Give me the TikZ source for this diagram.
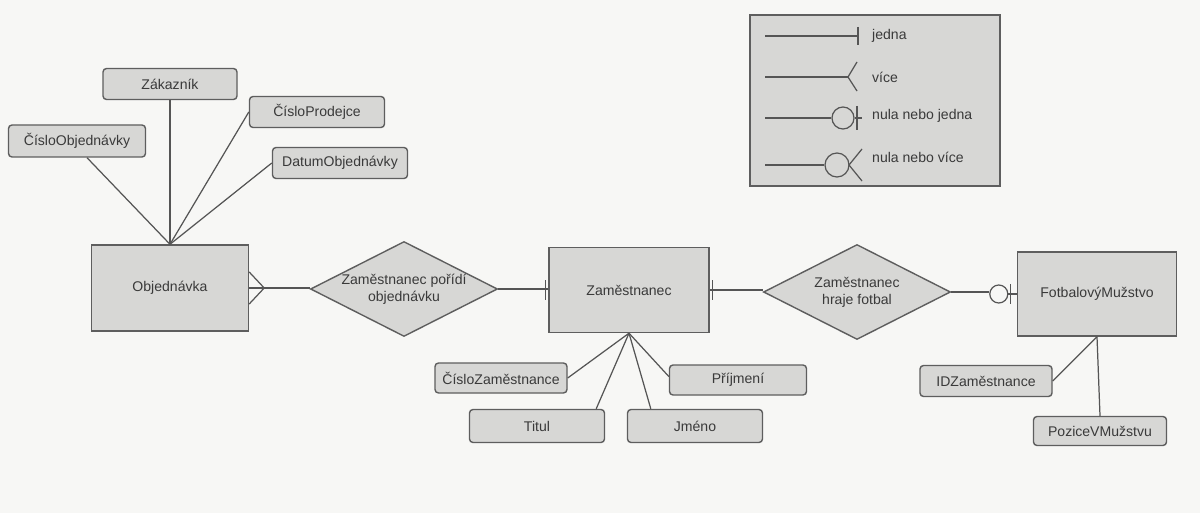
\documentclass[tikz,border=0pt]{standalone}
\usepackage{fontspec}
\setmainfont{Liberation Sans}
\usetikzlibrary{shapes.geometric,calc}
\newdimen\pxu \pxu=0.02cm
\definecolor{bg}{HTML}{F7F7F5}
\definecolor{boxfill}{HTML}{D7D7D5}
\definecolor{edge}{HTML}{5E5E5E}
\definecolor{ink}{HTML}{3A3A3A}
\definecolor{wirec}{HTML}{555555}
\begin{document}
\begin{tikzpicture}[x=0.02cm,y=-0.02cm,
  lbl/.style={font=\fontsize{8}{9.5}\selectfont, text=ink},
  entity/.style={lbl, draw=edge, fill=boxfill, line width=0.8pt, minimum width=157\pxu, minimum height=86\pxu},
  attr/.style={lbl, draw=edge, fill=boxfill, rounded corners=2pt, line width=0.8pt, minimum width=134\pxu, minimum height=31\pxu, inner sep=1pt},
  rel/.style={lbl, diamond, draw=edge, fill=boxfill, line width=0.8pt, aspect=1.97, inner sep=0pt, minimum width=187\pxu, minimum height=95\pxu, align=center},
  wire/.style={draw=wirec, line width=0.7pt},
  ring/.style={circle, draw=wirec, line width=0.7pt, inner sep=0pt}
]
\fill[bg] (0,0) rectangle (1200,513);
\useasboundingbox (0,0) rectangle (1200,513);

% entities
\node[entity] (obj) at (170,288) {Objednávka};
\node[entity, minimum width=160\pxu, minimum height=85\pxu] (zam) at (629,290) {Zaměstnanec};
\node[entity, minimum width=159\pxu, minimum height=84\pxu] (fm) at (1097,294) {FotbalovýMužstvo};

% relationships
\node[rel] (r1) at (404,289) {Zaměstnanec pořídí\\objednávku};
\node[rel] (r2) at (857,292) {Zaměstnanec\\hraje fotbal};

% attributes
\node[attr] (zak) at (170,84) {Zákazník};
\node[attr, minimum width=137\pxu, minimum height=32\pxu] (co) at (77,141) {ČísloObjednávky};
\node[attr, minimum width=135\pxu] (cp) at (317,112) {ČísloProdejce};
\node[attr, minimum width=135\pxu] (dobj) at (340,163) {DatumObjednávky};
\node[attr, minimum width=132\pxu, minimum height=30\pxu] (czam) at (501,378) {ČísloZaměstnance};
\node[attr, minimum width=137\pxu, minimum height=30\pxu] (prij) at (738,380) {Příjmení};
\node[attr, minimum width=135\pxu, minimum height=33\pxu] (titul) at (537,426) {Titul};
\node[attr, minimum width=135\pxu, minimum height=33\pxu] (jmeno) at (695,426) {Jméno};
\node[attr, minimum width=132\pxu] (idz) at (986,381) {IDZaměstnance};
\node[attr, minimum width=133\pxu, minimum height=29\pxu] (poz) at (1100,431) {PoziceVMužstvu};

% attribute links
\draw[wire] ([xshift=10\pxu]co.south) -- (obj.north);
\draw[wire] (zak.south) -- (obj.north);
\draw[wire] (cp.west) -- (obj.north);
\draw[wire] (dobj.west) -- (obj.north);
\draw[wire] (czam.east) -- (zam.south);
\draw[wire] ([xshift=-9\pxu]titul.north east) -- (zam.south);
\draw[wire] ([xshift=24\pxu]jmeno.north west) -- (zam.south);
\draw[wire] ([yshift=2pt]prij.west) -- (zam.south);
\draw[wire] (idz.east) -- (fm.south);
\draw[wire] (poz.north) -- (fm.south);

% relationship links
\draw[wire] (obj.east) -- (obj.east -| r1.west);
\coordinate (cf1) at ($(obj.east)+(15,0)$);
\draw[wire] ($(obj.east)+(0,-16)$) -- (cf1) -- ($(obj.east)+(0,16)$);
\draw[wire] (r1.east) -- (r1.east -| zam.west);
\draw[wire] ($(zam.west)+(-3,-10)$) -- ($(zam.west)+(-3,10)$);
\draw[wire] (zam.east) -- (zam.east -| r2.west);
\draw[wire] ($(zam.east)+(3,-10)$) -- ($(zam.east)+(3,10)$);
\node[ring, fill=bg, minimum size=18\pxu] (c1) at ($(fm.west)+(-18,0)$) {};
\draw[wire] (r2.east) -- (r2.east -| c1.west);
\draw[wire] (c1.east) -- (fm.west);
\draw[wire] ($(fm.west)+(-6,-10)$) -- ($(fm.west)+(-6,10)$);

% legend
\node[draw=edge, fill=boxfill, line width=0.8pt, minimum width=250\pxu, minimum height=171\pxu] (leg) at (875,100.5) {};
% jedna
\coordinate (l1a) at (765,36); \coordinate (l1b) at (858,36);
\draw[wire] (l1a) -- (l1b);
\draw[wire] ($(l1b)+(0,-9)$) -- ($(l1b)+(0,9)$);
\node[lbl, anchor=west] (t1) at (866,36) {jedna};
% vice
\coordinate (l2a) at (765,77); \coordinate (l2b) at (848,77);
\draw[wire] (l2a) -- (l2b);
\draw[wire] ($(l2b)+(9,-15)$) -- (l2b) -- ($(l2b)+(9,14)$);
\node[lbl, anchor=west] (t2) at (866,77) {více};
% nula nebo jedna
\coordinate (l3a) at (765,118);
\node[ring, minimum size=22\pxu] (c3) at (843,118) {};
\coordinate (l3b) at (862,118);
\draw[wire] (l3a) -- (c3.west);
\draw[wire] (c3.east) -- (l3b);
\draw[wire] (857,106) -- (857,130);
\node[lbl, anchor=west] (t3) at (866,116) {nula nebo jedna};
% nula nebo vice
\coordinate (l4a) at (765,165);
\node[ring, minimum size=24\pxu] (c4) at (837,165) {};
\coordinate (l4b) at (849,165);
\draw[wire] (l4a) -- (c4.west);
\draw[wire] (862,149) -- (l4b) -- (862,181);
\node[lbl, anchor=west] (t4) at (866,157) {nula nebo více};
\end{tikzpicture}
\end{document}
